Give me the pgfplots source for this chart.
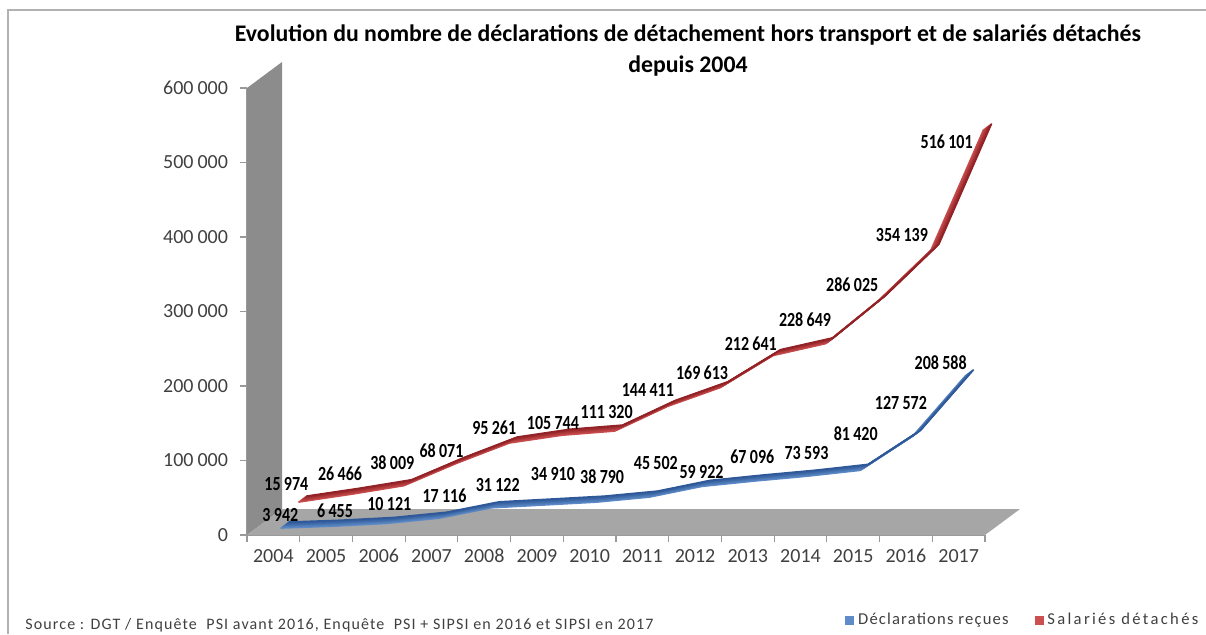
\documentclass[border=0pt]{standalone}
\usepackage{pgfplots}
\pgfplotsset{compat=1.18}
\usepackage{pgfplotstable}
\usepackage{fontspec}
\setmainfont{Carlito}
\newfontfamily\lblfont[FakeStretch=0.8]{Carlito}
\newfontfamily\lsfont[LetterSpace=7]{Carlito}
\newfontfamily\lsfontA[LetterSpace=7]{Carlito}
\newfontfamily\lsfontB[LetterSpace=14]{Carlito}
\definecolor{redA}{RGB}{205,80,80}
\definecolor{redB}{RGB}{130,22,28}
\definecolor{blueA}{RGB}{95,140,200}
\definecolor{blueB}{RGB}{35,75,140}
\definecolor{wallgray}{RGB}{140,140,140}
\definecolor{floorgray}{RGB}{166,166,166}
\definecolor{txtgray}{RGB}{64,64,64}

\pgfplotstableread{
x y lab dx up
0 3942 3\,942 7 17
1 6455 6\,455 9 19
2 10121 10\,121 10.5 23.5
3 17116 17\,116 13 27
4 31122 31\,122 13.5 27
5 34910 34\,910 16 35
6 38790 38\,790 12.5 29
7 45502 45\,502 13.5 38
8 59922 59\,922 6.5 18
9 67096 67\,096 4.5 28
10 73593 73\,593 6 27
11 81420 81\,420 2.5 41
12 127572 127\,572 -5 37
13 208588 208\,588 -18 17
}\declar

\pgfplotstableread{
x y lab dx up
0 15974 15\,974 13 39
1 26466 26\,466 14 42
2 38009 38\,009 13.5 44
3 68071 68\,071 10 34
4 95261 95\,261 10 36
5 105744 105\,744 16 33
6 111320 111\,320 17 40
7 144411 144\,411 5.5 37
8 169613 169\,613 7 36
9 212641 212\,641 3 33
10 228649 228\,649 4.5 45
11 286025 286\,025 -1 37
12 354139 354\,139 -4 36
13 516101 516\,101 -12 8.5
}\salar

\begin{document}
\begin{tikzpicture}
\useasboundingbox (0,0) rectangle (603pt,-317pt);
\draw[gray!60, line width=0.6pt] (4pt,-317pt) -- (4pt,-5pt) -- (603pt,-5pt);
\node[font=\bfseries\fontsize{11.9}{15.5}\selectfont, align=center] at (344pt,-25pt)
  {Evolution du nombre de déclarations de détachement hors transport et de salariés détachés\\depuis 2004};
\node[font=\lsfont\fontsize{8}{10}\selectfont, anchor=west, text=txtgray, inner sep=0pt] at (12.5pt,-312.5pt)
  {Source : DGT / Enquête \ PSI avant 2016, Enquête \ PSI + SIPSI en 2016 et SIPSI en 2017};
\begin{axis}[
  scale only axis, width=369pt, height=223.5pt,
  at={(123.5pt,-267.5pt)}, anchor=south west,
  xmin=-0.5, xmax=13.5, ymin=0, ymax=600000,
  clip=false,
  axis x line*=bottom, axis y line*=left,
  axis line style={-, draw=gray!80, line width=0.6pt},
  tick align=outside, major tick length=3.5pt,
  tick style={draw=gray!80, line width=0.6pt},
  xtick={-0.5,0.5,...,13.5}, xticklabel={\empty},
  extra x ticks={0,1,...,13},
  extra x tick labels={2004,2005,2006,2007,2008,2009,2010,2011,2012,2013,2014,2015,2016,2017},
  extra x tick style={major tick length=0pt, xticklabel style={yshift=-3.5pt}},
  xticklabel style={font=\fontsize{10}{12}\selectfont, text=txtgray},
  ytick={0,100000,...,600000}, scaled y ticks=false,
  yticklabel style={font=\fontsize{10}{12}\selectfont, text=txtgray, xshift=-2.5pt},
  /pgf/number format/.cd, assume math mode=true, 1000 sep={\hspace{0.2em}}, fixed, precision=0,
  /pgfplots/.cd,
  legend style={at={(axis description cs:0.8103,-0.1902)}, anchor=west, draw=none, fill=none,
    legend columns=2, font=\fontsize{8.3}{10}\selectfont, text=txtgray, inner sep=0pt,
    /tikz/every even column/.append style={column sep=11pt}},
]
% 3D wall and floor
\fill[wallgray] (axis cs:-0.5,0) -- (axis cs:-0.5,600000) -- (axis cs:0.164,634900) -- (axis cs:0.164,34900) -- cycle;
\fill[floorgray] (axis cs:-0.5,0) -- (axis cs:13.5,0) -- (axis cs:14.164,34900) -- (axis cs:0.164,34900) -- cycle;

\addlegendimage{legend image code/.code={\fill[blueA] (0pt,-2pt) rectangle (4pt,2pt);}}
\addlegendentry{\lsfontA Déclarations reçues}
\addlegendimage{legend image code/.code={\fill[redA] (0pt,-2pt) rectangle (4pt,2pt);}}
\addlegendentry{\lsfontB Salariés détachés}

% ribbons
\pgfplotsinvokeforeach{0,...,8}{
  \addplot[draw=blueB!#10!blueA, line width=0.8pt, line join=round, mark=none, forget plot,
    xshift=3.5pt+#1*0.5pt, yshift=2pt+#1*0.375pt] table[x=x,y=y]{\declar};
}
\pgfplotsinvokeforeach{0,...,8}{
  \addplot[draw=redB!#10!redA, line width=0.8pt, line join=round, mark=none, forget plot,
    xshift=12.5pt+#1*0.5pt, yshift=10.5pt+#1*0.375pt] table[x=x,y=y]{\salar};
}

% data labels
\addplot[draw=none, mark=none, forget plot, point meta=explicit symbolic,
  visualization depends on={\thisrow{dx} \as \dx},
  visualization depends on={\thisrow{up} \as \up},
  nodes near coords,
  nodes near coords style={anchor=center, xshift=\dx*0.5pt, yshift=\up*0.5pt,
    font=\lblfont\bfseries\fontsize{10}{12}\selectfont, text=black, inner sep=0pt}]
  table[x=x, y=y, meta=lab]{\declar};
\addplot[draw=none, mark=none, forget plot, point meta=explicit symbolic,
  visualization depends on={\thisrow{dx} \as \dx},
  visualization depends on={\thisrow{up} \as \up},
  nodes near coords,
  nodes near coords style={anchor=center, xshift=\dx*0.5pt, yshift=\up*0.5pt,
    font=\lblfont\bfseries\fontsize{10}{12}\selectfont, text=black, inner sep=0pt}]
  table[x=x, y=y, meta=lab]{\salar};
\end{axis}
\end{tikzpicture}
\end{document}
